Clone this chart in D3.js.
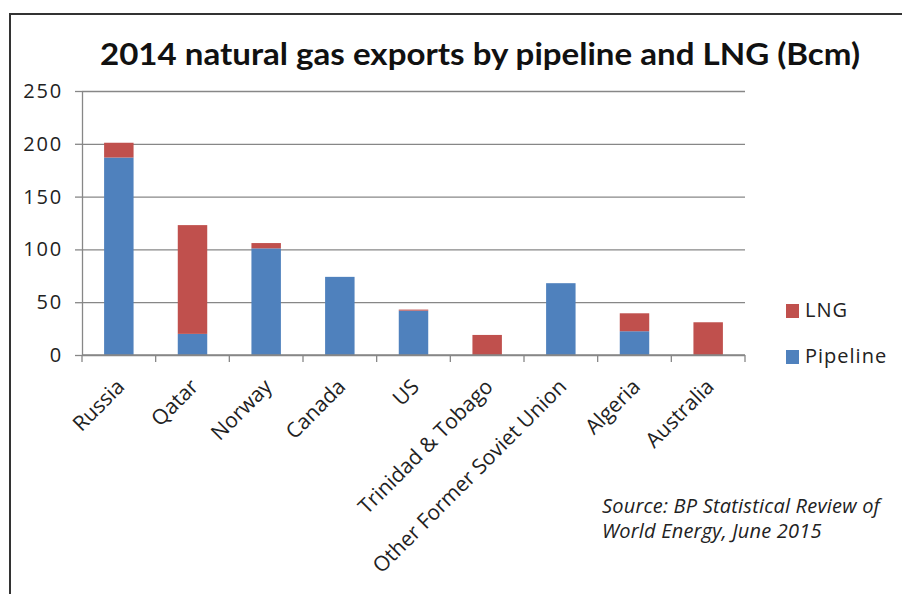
<!DOCTYPE html>
<html>
<head>
<meta charset="utf-8">
<script src="https://cdn.jsdelivr.net/npm/d3@7/dist/d3.min.js"></script>
<style>
  html, body { margin: 0; padding: 0; background: #fff; }
  svg { display: block; }
</style>
</head>
<body>
<svg id="chart" width="902" height="594"></svg>
<script>
// 2014 natural gas exports by pipeline and LNG, billion cubic metres
const countries = ["Russia", "Qatar", "Norway", "Canada", "US", "Trinidad & Tobago",
                   "Other Former Soviet Union", "Algeria", "Australia"];
const pipeline = [187, 20, 101, 74, 42, 0, 68, 22.5, 0];
const lng      = [14, 103, 5, 0, 1, 19, 0, 17, 31];
const seriesNames = ["Pipeline", "LNG"];
const yTicks = [0, 50, 100, 150, 200, 250];
const titleText = "2014 natural gas exports by pipeline and LNG (Bcm)";
const sourceLines = ["Source: BP Statistical Review of", "World Energy, June 2015"];

const colors = { Pipeline: "#4F81BD", LNG: "#C0504D" };
const gridColor = "#878787";
const titleFont = "Lato, 'Open Sans', sans-serif";
const font = "'Open Sans', Lato, sans-serif";

const svg = d3.select("#chart");

// frame
svg.append("path")
  .attr("d", "M10,594 V14 H902")
  .attr("fill", "none")
  .attr("stroke", "#333")
  .attr("stroke-width", 2);

const plot = { left: 82, right: 745, top: 91, bottom: 355 };

const x = d3.scaleBand()
  .domain(countries)
  .range([plot.left, plot.right])
  .paddingInner(0.6)
  .paddingOuter(0.3);

const y = d3.scaleLinear()
  .domain([0, 250])
  .range([plot.bottom, plot.top]);

// title
svg.append("text")
  .attr("x", 100)
  .attr("y", 65)
  .attr("font-family", titleFont)
  .attr("font-weight", 700)
  .attr("font-size", 30)
  .attr("fill", "#111")
  .attr("textLength", 760)
  .attr("lengthAdjust", "spacingAndGlyphs")
  .text(titleText);

// horizontal gridlines
const grid = svg.append("g")
  .attr("transform", `translate(${plot.left},0)`)
  .call(d3.axisLeft(y).tickValues(yTicks).tickSize(-(plot.right - plot.left)).tickFormat(""));
grid.select(".domain").remove();
grid.selectAll("line").attr("stroke", gridColor).attr("stroke-width", 1.3);

// y axis
const yAxis = svg.append("g")
  .attr("transform", `translate(${plot.left},0)`)
  .call(d3.axisLeft(y).tickValues(yTicks).tickSize(7).tickPadding(12).tickSizeOuter(0));
yAxis.select(".domain").attr("stroke", gridColor).attr("stroke-width", 1.3);
yAxis.selectAll("line").attr("stroke", gridColor).attr("stroke-width", 1.3);
yAxis.selectAll("text")
  .attr("font-family", font)
  .attr("font-size", 20)
  .attr("letter-spacing", 1.8)
  .attr("fill", "#222");

// stacked bars
const rows = countries.map((c, i) => ({ country: c, Pipeline: pipeline[i], LNG: lng[i] }));
const stacked = d3.stack().keys(seriesNames)(rows);

svg.append("g").selectAll("g")
  .data(stacked)
  .join("g")
  .attr("fill", d => colors[d.key])
  .selectAll("rect")
  .data(d => d)
  .join("rect")
  .attr("x", d => x(d.data.country))
  .attr("width", x.bandwidth())
  .attr("y", d => y(d[1]))
  .attr("height", d => y(d[0]) - y(d[1]));

// x axis with ticks between categories
const xAxis = svg.append("g");
xAxis.append("line")
  .attr("x1", plot.left).attr("x2", plot.right)
  .attr("y1", y(0)).attr("y2", y(0))
  .attr("stroke", gridColor).attr("stroke-width", 1.3);
const step = x.step();
const boundaries = d3.range(countries.length + 1).map(i => plot.left + i * step);
xAxis.selectAll("line.tick")
  .data(boundaries)
  .join("line")
  .attr("class", "tick")
  .attr("x1", d => d).attr("x2", d => d)
  .attr("y1", y(0)).attr("y2", y(0) + 7)
  .attr("stroke", gridColor).attr("stroke-width", 1.3);

// rotated category labels
xAxis.selectAll("text")
  .data(countries)
  .join("text")
  .attr("transform", d => `translate(${x(d) + x.bandwidth() / 2 + 7},${y(0) + 33}) rotate(-45)`)
  .attr("text-anchor", "end")
  .attr("font-family", font)
  .attr("font-size", 21)
  .attr("fill", "#222")
  .text(d => d);

// legend
const legendItems = ["LNG", "Pipeline"];
const legend = svg.append("g").attr("transform", "translate(786,304)");
const li = legend.selectAll("g")
  .data(legendItems)
  .join("g")
  .attr("transform", (d, i) => `translate(0,${i * 46})`);
li.append("rect")
  .attr("width", 13).attr("height", 14)
  .attr("fill", d => colors[d]);
li.append("text")
  .attr("x", 19).attr("y", 13)
  .attr("font-family", font)
  .attr("font-size", 20)
  .attr("letter-spacing", 1)
  .attr("fill", "#222")
  .text(d => d);

// source note
svg.append("g").selectAll("text")
  .data(sourceLines)
  .join("text")
  .attr("x", 602)
  .attr("y", (d, i) => 513 + i * 25)
  .attr("font-family", font)
  .attr("font-style", "italic")
  .attr("font-size", 20)
  .attr("letter-spacing", 0.2)
  .attr("fill", "#222")
  .text(d => d);
</script>
</body>
</html>
